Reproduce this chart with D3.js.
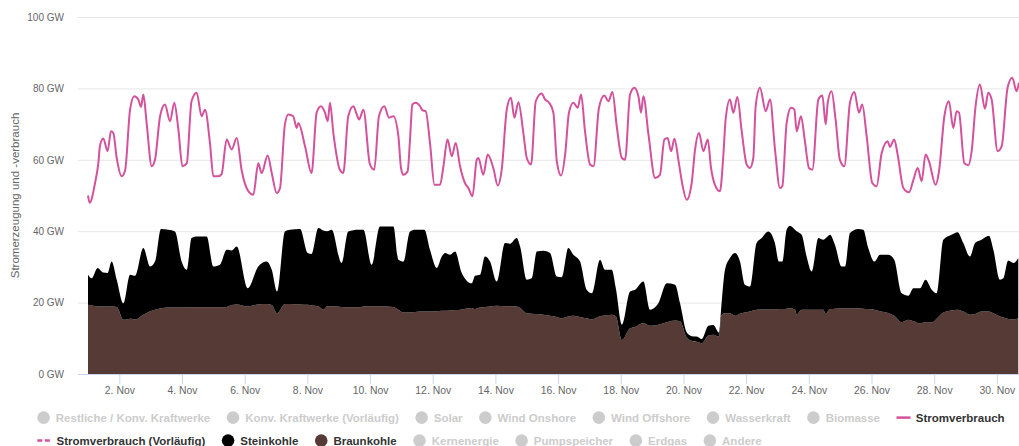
<!DOCTYPE html>
<html><head><meta charset="utf-8">
<script src="https://cdn.jsdelivr.net/npm/d3@7"></script>
<style>
html,body{margin:0;padding:0;background:#fff;overflow:hidden}
svg{display:block;font-family:"Liberation Sans",Arial,Helvetica,sans-serif}
</style></head><body>
<svg id="chart" width="1019" height="446"></svg>
<script>
// ---------- DATA ----------
const yTicks = [0, 20, 40, 60, 80, 100];
const xTickDays = [2, 4, 6, 8, 10, 12, 14, 16, 18, 20, 22, 24, 26, 28, 30];

// Stromverbrauch: [Stunden seit 1. Nov 00:00, GW]
const stromverbrauch = [
[0,50],[1.3,48],[5.4,53.5],[7.9,59],[9.2,64],[11.7,66],[15.0,62.4],[17.6,68],[19.4,67.5],[22.0,60.5],
[25.8,55.4],[28.4,57],[32.2,74],[35.4,77.8],[38.5,76.9],[40.6,74.8],[42.4,78.3],[44.9,70.3],[48.8,58.2],[51.3,60],
[55.2,72.2],[58.9,75.5],[62.8,70.8],[66.1,76],[69.2,68.5],[72.3,58.2],[75.6,59],[79.3,76.4],[83.2,78.8],[87.0,72.2],
[89.6,74],[93.4,64.7],[96.0,55.4],[99.9,55.4],[102.3,56],[106.2,65.7],[110.0,62.9],[113.9,66.1],[117.7,57],[122.8,51.2],
[126.6,50.2],[130.4,59],[133.0,56.3],[137.6,61.2],[140.7,56.3],[144.5,50.7],[147.0,52],[150.8,69.9],[153.4,72.7],[157.2,72.2],
[159.8,68.9],[161.1,70.3],[166.2,63.8],[171.2,56.3],[175.1,73.2],[178.4,75],[181.5,73.2],[183.6,70.8],[185.3,76],[187.9,67.5],
[192.9,57.2],[195.5,56.3],[199.3,72.2],[203.2,75],[205.8,72.7],[207.6,71.3],[210.9,74],[215.9,58.7],[219.2,57.2],[222.8,72.2],
[226.9,75],[230.5,71.8],[233.9,72.2],[237.7,66.6],[239.7,57.7],[241.5,55.8],[244.8,56.8],[246.6,65.7],[248.4,75.5],[251.0,76],
[254.3,75],[256.1,73.9],[258.6,73.6],[261.9,64.7],[265.3,53],[269.6,53],[272.2,58.2],[275.3,65.7],[278.6,61],[281.6,64.7],
[284.9,58.2],[288.7,53.5],[291.3,52.1],[294.4,49.8],[297.7,60],[299.0,60.5],[302.7,55.8],[306.1,61.5],[310.4,57.7],[313.8,52.8],
[316.8,57.2],[320.7,74.1],[323.9,77.4],[326.5,71.8],[329.6,76.1],[333.4,67.5],[336.0,60.5],[339.3,58.7],[342.9,76.4],[347.4,78.6],
[350.0,76.9],[353.1,76],[356.4,73.2],[359.0,59.6],[362.3,55.6],[365.4,61.5],[368.3,73.2],[371.7,76],[375.0,74.6],[377.6,78.3],
[380.6,68],[384.5,58.7],[387.1,58.2],[391.3,74.6],[395.4,78],[398.5,76.4],[401.6,79],[404.9,69.4],[408.8,60.5],[411.3,60],
[415.1,78.3],[418.4,80.2],[421.5,77.8],[423.5,73.2],[425.3,77.8],[429.2,67.1],[434.3,54.9],[438.0,55.8],[441.4,65.7],[443.9,66.1],
[446.5,62.4],[449.1,65.9],[452.1,60],[455.2,53],[458.5,48.8],[462.3,53.5],[464.9,62.9],[467.9,67.5],[471.3,62.4],[474.6,65.7],
[477.1,57.7],[480.1,53],[483.9,51.2],[486.5,61],[488.3,71.3],[491.6,76.9],[494.2,73.2],[497.3,77.6],[500.6,68],[504.4,58.7],
[506.9,57.7],[509.5,60.5],[511.3,75],[514.6,80.2],[519.0,73.6],[522.3,76.9],[526.0,63.3],[529.9,52.1],[531.7,52.6],[535.0,70.3],
[538.4,74.6],[540.9,74.1],[542.7,68],[546.0,72.2],[549.0,65.2],[552.1,57.7],[554.7,57.2],[559.3,76.9],[562.4,78],[564.9,69.9],
[566.5,76],[569.4,79.2],[572.5,71.3],[575.8,60],[579.2,58.2],[583.5,76],[586.9,79],[590.4,73.2],[592.9,75.5],[596.3,66.6],
[600.6,53.5],[603.9,52.6],[607.8,61.9],[612.4,65.2],[614.1,63.6],[617.4,65.7],[620.0,61.5],[624.4,52.1],[628.7,50.9],[632.1,54.4],
[635.4,57.7],[638.4,54],[641.4,61.5],[644.0,59.6],[649.1,53],[651.7,56.8],[655.8,72.2],[659.3,76.4],[662.6,68.9],[665.2,73.6],
[667.0,73.2],[671.1,59],[674.2,58.5],[676.7,62.4],[679.7,75],[683.0,81.1],[686.9,74.3],[689.4,78.8],[692.0,76.9],[696.6,62.4],
[699.7,63.8],[704.2,80.2],[707.8,83],[711.1,79.2],[712.9,81.6]
];

// Kohle (gestapelt): Zeitpunkte in Stunden seit 1. Nov 00:00
const kohleStunden = [
0,2.8,7.4,11.7,15.0,18.1,22.0,27.1,32.2,36.0,
42.4,47.5,51.3,55.9,61.5,66.6,71.7,75.6,79.3,83.2,
90.9,96.0,101.0,106.2,110.0,113.9,122.3,130.4,136.8,140.7,
144.8,150.8,154.7,162.4,168.2,171.2,176.4,180.2,183.2,186.6,
194.2,199.3,207.0,210.9,217.2,223.6,233.9,
237.7,241.5,246.6,250.5,257.6,261.9,267.1,270.9,273.5,277.3,
281.1,286.2,293.9,296.4,300.3,304.0,307.9,313.0,319.4,323.2,
328.3,330.9,336.0,339.8,343.7,348.7,353.8,359.0,362.8,367.8,
371.7,376.8,381.9,385.8,392.1,395.9,401.1,404.2,408.8,415.1,
418.9,425.3,430.4,436.8,443.2,449.6,453.4,458.5,462.3,466.1,
470.0,475.1,478.8,483.2,485.2,
487.8,491.6,495.5,499.3,503.1,506.9,512.0,515.9,520.9,526.0,
529.1,531.7,535.0,537.6,541.4,542.7,546.5,550.3,554.2,559.3,
563.1,564.9,568.2,572.0,577.1,579.7,583.5,589.9,593.7,597.5,
602.2,606.5,612.8,617.4,623.1,628.2,632.1,637.1,641.4,646.1,
649.9,655.0,661.3,665.9,670.3,675.4,679.3,684.3,690.0,693.3,
698.4,701.0,704.7,708.6,712.4
];
// Braunkohle (GW)
const braunkohle = [
19.4,19.2,19.0,18.9,18.9,18.9,18.8,15.2,15.5,15.3,
16.6,17.6,18.0,18.4,18.6,18.6,18.6,18.7,18.7,18.7,
18.7,18.7,18.7,18.8,19.3,19.5,18.9,19.5,19.6,19.3,
17.0,19.6,19.6,19.5,19.4,19.2,19.0,18.0,19.0,19.0,
18.8,18.7,18.7,18.9,19.0,19.0,18.8,
18.0,17.2,17.3,17.4,17.5,17.5,17.6,17.7,17.7,17.8,
17.9,18.1,18.5,18.2,18.6,18.8,18.9,19.1,19.0,19.0,
18.9,18.5,17.0,16.9,16.8,16.6,16.3,16.0,15.6,16.1,
16.3,16.0,15.6,15.3,16.2,16.4,16.6,16.2,9.5,12.8,
13.2,14.3,13.5,13.8,14.5,15.0,14.8,10.2,9.3,9.0,
8.6,10.8,11.0,10.5,16.5,
17.0,17.0,16.3,16.9,17.2,17.5,18.0,18.1,18.1,18.1,
18.2,18.2,18.3,18.4,18.0,16.7,18.0,18.0,18.0,18.0,
18.0,16.8,18.2,18.3,18.4,18.4,18.4,18.4,18.3,18.2,
18.0,17.6,17.1,16.3,14.5,15.2,14.8,14.2,14.4,14.4,
15.5,17.2,17.8,18.0,17.5,16.6,16.8,17.5,17.5,17.0,
16.1,15.8,15.4,15.3,15.6
];
// Steinkohle (GW)
const steinkohle = [
8.4,7.6,10.7,9.5,9.4,12.6,7.6,4.6,12.3,12.2,
18.7,12.5,13.5,22.2,21.8,21.3,12.9,10.5,19.4,19.8,
19.8,11.4,11.9,16.0,15.3,16.2,5.1,10.6,11.9,9.9,
6.1,20.3,20.8,21.1,14.5,14.4,21.9,22.2,21.0,21.4,
12.3,21.2,21.7,21.5,11.6,22.3,22.5,
14.0,14.3,22.6,23.0,22.9,17.3,12.1,15.2,16.2,15.6,
16.4,10.2,6.9,9.3,9.2,14.1,12.6,6.8,17.7,17.5,
19.2,17.2,9.4,9.9,17.5,17.9,17.6,11.3,11.5,19.2,
17.1,15.5,8.0,7.3,15.8,12.8,12.6,7.8,4.3,10.3,
10.4,11.6,4.5,6.0,10.9,10.0,5.0,1.4,1.3,1.5,
1.2,2.7,2.7,1.1,3.3,
12.2,15.5,17.6,14.6,7.8,7.0,18.7,20.0,21.8,18.6,
13.3,13.3,22.1,23.1,22.4,23.3,21.0,14.9,10.7,20.1,
19.6,21.2,20.8,17.9,11.7,11.7,21.1,22.2,22.1,17.1,
13.5,15.8,16.3,15.7,8.1,6.7,9.2,9.8,12.0,9.2,
7.1,20.4,21.2,21.7,19.2,16.3,19.9,20.1,21.2,17.8,
10.3,11.0,16.4,15.8,16.9
];

const legendRow1 = ["Restliche / Konv. Kraftwerke", "Konv. Kraftwerke (Vorläufig)", "Solar", "Wind Onshore", "Wind Offshore", "Wasserkraft", "Biomasse", "Stromverbrauch"];
const legendRow2 = ["Stromverbrauch (Vorläufig)", "Steinkohle", "Braunkohle", "Kernenergie", "Pumpspeicher", "Erdgas", "Andere"];

// ---------- STYLE ----------
const W = 1019, H = 446;
const plotLeft = 78, plotTop = 17, plotBottom = 374;
const pink = "#d4519c", braunColor = "#553a36", steinColor = "#000000";
const legendStyle = {
  "Stromverbrauch": {sym: "line", color: pink, active: true},
  "Stromverbrauch (Vorläufig)": {sym: "dash", color: pink, active: true},
  "Steinkohle": {sym: "circle", color: steinColor, active: true},
  "Braunkohle": {sym: "circle", color: braunColor, active: true}
};

const start = Date.UTC(2016, 10, 1);
const toDate = h => new Date(start + h * 3600e3);
const pxPerHour = 31.34 / 24;
const x = d3.scaleUtc()
  .domain([toDate(-(88 - plotLeft) / pxPerHour), toDate(720)])
  .range([plotLeft, 88 + 720 * pxPerHour]);
const y = d3.scaleLinear().domain([0, 100]).range([plotBottom, plotTop]);

const svg = d3.select("#chart");

svg.append("defs").append("clipPath").attr("id", "clip")
  .append("rect").attr("x", plotLeft).attr("y", 0).attr("width", W - plotLeft).attr("height", plotBottom);

// gridlines + y labels
const yAxis = svg.append("g").attr("transform", `translate(${plotLeft},0)`)
  .call(d3.axisLeft(y).tickValues(yTicks).tickFormat(d => d + " GW").tickSize(-(W - plotLeft)).tickPadding(14));
yAxis.select(".domain").remove();
yAxis.selectAll("line").attr("stroke", "#e6e6e6");
yAxis.selectAll("text").attr("fill", "#666666").style("font-size", "10px").attr("font-family", null);

// y title
svg.append("text")
  .attr("transform", `translate(18.5,${(plotTop + plotBottom) / 2}) rotate(-90)`)
  .attr("text-anchor", "middle").attr("fill", "#666666").style("font-size", "11.5px")
  .text("Stromerzeugung und -verbrauch");

// stacked areas
const rows = kohleStunden.map((h, i) => ({t: toDate(h), Braunkohle: braunkohle[i], Steinkohle: steinkohle[i]}));
const stacked = d3.stack().keys(["Braunkohle", "Steinkohle"])(rows);
const area = d3.area().x(d => x(d.data.t)).y0(d => y(d[0])).y1(d => y(d[1])).curve(d3.curveMonotoneX);
const plot = svg.append("g").attr("clip-path", "url(#clip)");
plot.selectAll("path.area").data(stacked).join("path").attr("class", "area")
  .attr("fill", d => d.key === "Braunkohle" ? braunColor : steinColor)
  .attr("d", area);

// consumption line
const line = d3.line().x(d => x(toDate(d[0]))).y(d => y(d[1])).curve(d3.curveMonotoneX);
plot.append("path").datum(stromverbrauch).attr("fill", "none").attr("stroke", pink)
  .attr("stroke-width", 2).attr("stroke-linejoin", "round").attr("d", line);

// x axis
const xAxis = svg.append("g").attr("transform", `translate(0,${plotBottom})`)
  .call(d3.axisBottom(x).tickValues(xTickDays.map(d => new Date(Date.UTC(2016, 10, d))))
    .tickFormat(d3.utcFormat("%-d. %b")).tickSize(10).tickSizeOuter(0).tickPadding(2.5));
xAxis.select(".domain").attr("stroke", "#ccd6eb");
xAxis.selectAll("line").attr("stroke", "#ccd6eb");
xAxis.selectAll("text").attr("fill", "#666666").style("font-size", "10.4px").attr("font-family", null);

// legend
function drawLegendRow(items, baseline) {
  let cx = 37.3;
  const g = svg.append("g");
  items.forEach(name => {
    const st = legendStyle[name] || {sym: "circle", color: "#cccccc", active: false};
    const cy = baseline - 4.4;
    let tx;
    if (st.sym === "line" || st.sym === "dash") {
      g.append("line").attr("x1", cx).attr("x2", cx + 14).attr("y1", cy).attr("y2", cy)
        .attr("stroke", st.color).attr("stroke-width", 2.5)
        .attr("stroke-dasharray", st.sym === "dash" ? "5,2.5" : null);
      tx = cx + 19.3;
    } else {
      g.append("circle").attr("cx", cx + 6.3).attr("cy", cy).attr("r", 6.3).attr("fill", st.color);
      tx = cx + 18.5;
    }
    const t = g.append("text").attr("x", tx).attr("y", baseline)
      .attr("fill", st.active ? "#333333" : "#cccccc")
      .style("font-size", "11.5px").style("font-weight", "bold").text(name);
    cx = tx + t.node().getComputedTextLength() + 16.5;
  });
}
drawLegendRow(legendRow1, 422);
drawLegendRow(legendRow2, 445);
</script>
</body></html>
